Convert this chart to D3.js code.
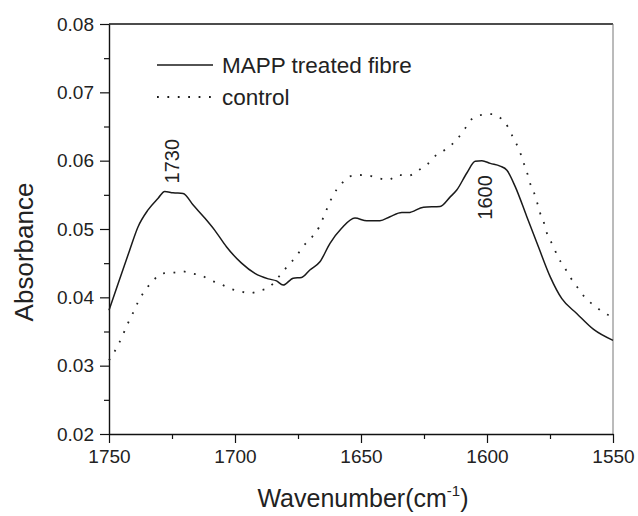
<!DOCTYPE html>
<html>
<head>
<meta charset="utf-8">
<script src="https://cdn.jsdelivr.net/npm/d3@7"></script>
<style>
  body { margin: 0; background: #fff; }
  svg { display: block; font-family: 'Liberation Sans', Arial, sans-serif; }
</style>
</head>
<body>
<svg></svg>
<script>
const width = 638;
const height = 516;
const margin = {top: 24, right: 25, bottom: 82, left: 109};

// wavenumber (cm-1) / absorbance
const mappWn = [1750, 1746.4, 1741.8, 1738.5, 1734.5, 1730.5, 1727.9, 1724.6, 1720.6, 1716.6,
    1712, 1708, 1703.4, 1697.4, 1692.1, 1686.8, 1683.5, 1680.9, 1676.9, 1673.6,
    1670.3, 1666.3, 1662.3, 1657.7, 1652.4, 1647.7, 1642.5, 1638.5, 1633.8, 1631.2,
    1625.2, 1618.6, 1614.6, 1612, 1608, 1604.7, 1602, 1598.7, 1594.8, 1592.1,
    1588.8, 1584.2, 1579.6, 1574.9, 1570.3, 1564.3, 1557.7, 1550];
const mappAbs = [0.0381, 0.0420, 0.0469, 0.0503, 0.0528, 0.0545, 0.0555, 0.0553, 0.0552, 0.0535,
    0.0516, 0.0498, 0.0474, 0.0450, 0.0435, 0.0427, 0.0424, 0.0418, 0.0428, 0.0429,
    0.0440, 0.0452, 0.0479, 0.0501, 0.0516, 0.0512, 0.0512, 0.0518, 0.0524, 0.0524,
    0.0532, 0.0533, 0.0547, 0.0557, 0.0582, 0.0599, 0.0600, 0.0596, 0.0592, 0.0586,
    0.0562, 0.0518, 0.0474, 0.0430, 0.0398, 0.0376, 0.0353, 0.0337];

const controlWn = [1750, 1746.4, 1744.4, 1742.5, 1740.5, 1738.5, 1736.1, 1732.8, 1728.8, 1724.6,
    1720.8, 1717.3, 1713.3, 1709.7, 1706, 1702, 1698, 1694, 1690.1, 1686.4,
    1682.9, 1679.3, 1675.7, 1672.9, 1669.5, 1666.6, 1664.7, 1663, 1661, 1658,
    1654.4, 1650.4, 1646.7, 1642.7, 1639.1, 1635.2, 1631.2, 1627.2, 1623.6, 1619.9,
    1616.2, 1612.2, 1609.1, 1606, 1602, 1598.1, 1594.5, 1591.5, 1589.2, 1587.2,
    1585.8, 1584.2, 1583.1, 1581.5, 1580.2, 1578.9, 1577.3, 1576, 1573.8, 1572,
    1569.6, 1566.9, 1564, 1560.7, 1557, 1553.5, 1550];
const controlAbs = [0.0308, 0.0330, 0.0346, 0.0362, 0.0377, 0.0393, 0.0408, 0.0423, 0.0435, 0.0436,
    0.0438, 0.0435, 0.0432, 0.0425, 0.0420, 0.0413, 0.0409, 0.0406, 0.0410, 0.0415,
    0.0429, 0.0445, 0.0460, 0.0475, 0.0488, 0.0503, 0.0519, 0.0534, 0.0550, 0.0565,
    0.0577, 0.0579, 0.0578, 0.0574, 0.0572, 0.0579, 0.0578, 0.0586, 0.0595, 0.0609,
    0.0617, 0.0630, 0.0645, 0.0661, 0.0667, 0.0668, 0.0662, 0.0648, 0.0630, 0.0616,
    0.0600, 0.0584, 0.0569, 0.0555, 0.0540, 0.0523, 0.0508, 0.0491, 0.0476, 0.0460,
    0.0446, 0.0429, 0.0414, 0.0398, 0.0387, 0.0377, 0.0372];

const xTicks = [1750, 1700, 1650, 1600, 1550];
const xMinor = [1725, 1675, 1625, 1575];
const yTicks = [0.02, 0.03, 0.04, 0.05, 0.06, 0.07, 0.08];
const yMinor = [0.025, 0.035, 0.045, 0.055, 0.065, 0.075];

const seriesNames = ['MAPP treated fibre', 'control'];
const peakLabels = [{wn: 1730, abs: 0.0555, text: '1730'}, {wn: 1600, abs: 0.0600, text: '1600'}];

const innerW = width - margin.left - margin.right;
const innerH = height - margin.top - margin.bottom;

const svg = d3.select('svg').attr('width', width).attr('height', height);
const g = svg.append('g').attr('transform', `translate(${margin.left},${margin.top})`);

const x = d3.scaleLinear().domain([1750, 1550]).range([0, innerW]);
const y = d3.scaleLinear().domain([0.02, 0.08]).range([innerH, 0]);

const line = d3.line()
    .x(function(d) { return x(d[0]); })
    .y(function(d) { return y(d[1]); })
    .curve(d3.curveMonotoneX);

const mapp = d3.zip(mappWn, mappAbs);
const control = d3.zip(controlWn, controlAbs);

// frame: top + right
g.append('line').attr('x1', 0).attr('x2', innerW).attr('y1', 0).attr('y2', 0)
    .attr('stroke', '#111').attr('stroke-width', 1.6);
g.append('line').attr('x1', innerW).attr('x2', innerW).attr('y1', 0).attr('y2', innerH)
    .attr('stroke', '#777').attr('stroke-width', 1);

const tickFont = function(sel) {
    sel.selectAll('text').attr('font-size', 19).attr('fill', '#222')
        .attr('font-family', "'Liberation Sans', Arial, sans-serif");
    sel.selectAll('path').attr('stroke', '#111').attr('stroke-width', 1.4);
    sel.selectAll('line').attr('stroke', '#111').attr('stroke-width', 1.2);
};

g.append('g').attr('transform', `translate(0,${innerH})`)
    .call(d3.axisBottom(x).tickValues(xMinor).tickSize(5).tickFormat(''))
    .call(tickFont)
    .select('.domain').remove();
g.append('g').attr('transform', `translate(0,${innerH})`)
    .call(d3.axisBottom(x).tickValues(xTicks).tickSize(9).tickPadding(7).tickSizeOuter(0)
        .tickFormat(d3.format('d')))
    .call(tickFont);

g.append('g')
    .call(d3.axisLeft(y).tickValues(yMinor).tickSize(5).tickFormat(''))
    .call(tickFont)
    .select('.domain').remove();
g.append('g')
    .call(d3.axisLeft(y).tickValues(yTicks).tickSize(9).tickPadding(6).tickSizeOuter(0)
        .tickFormat(d3.format('.2f')))
    .call(tickFont);

// curves
g.append('path').datum(control)
    .attr('fill', 'none').attr('stroke', '#222')
    .attr('stroke-width', 1.8).attr('stroke-dasharray', '1.8,8.6')
    .attr('d', line);
g.append('path').datum(mapp)
    .attr('fill', 'none').attr('stroke', '#1a1a1a')
    .attr('stroke-width', 1.5)
    .attr('d', line);

// peak labels: 1730 sits above its peak, 1600 hangs below its peak
g.selectAll('.peak').data(peakLabels).enter().append('text')
    .attr('class', 'peak')
    .attr('transform', function(d, i) {
        const px = i === 0 ? x(d.wn) + 20 : x(d.wn) + 4.5;
        const py = i === 0 ? y(d.abs) - 8 : y(d.abs) + 59;
        return `translate(${px},${py}) rotate(-90)`;
    })
    .attr('font-size', 20).attr('fill', '#222')
    .text(function(d) { return d.text; });

// legend
const legend = g.append('g').attr('transform', 'translate(48,41)');
const rows = legend.selectAll('g').data(seriesNames).enter().append('g')
    .attr('transform', function(d, i) { return `translate(0,${i * 32})`; });
rows.append('line')
    .attr('x1', 0).attr('x2', function(d, i) { return i === 0 ? 56 : 54; })
    .attr('stroke', '#1a1a1a')
    .attr('stroke-width', function(d, i) { return i === 0 ? 1.5 : 1.8; })
    .attr('stroke-dasharray', function(d, i) { return i === 0 ? null : '1.8,8.6'; });
rows.append('text')
    .attr('x', 65).attr('dy', '0.36em')
    .attr('font-size', 22.5).attr('fill', '#222')
    .text(function(d) { return d; });

// axis titles
svg.append('text')
    .attr('transform', 'translate(33,252) rotate(-90)')
    .attr('text-anchor', 'middle')
    .attr('font-size', 26).attr('fill', '#222')
    .text('Absorbance');

const xt = svg.append('text')
    .attr('x', 363).attr('y', 507)
    .attr('text-anchor', 'middle')
    .attr('font-size', 25).attr('fill', '#222');
xt.append('tspan').text('Wavenumber(cm');
xt.append('tspan').attr('font-size', 15).attr('dy', -11).text('-1');
xt.append('tspan').attr('dy', 11).text(')');
</script>
</body>
</html>
